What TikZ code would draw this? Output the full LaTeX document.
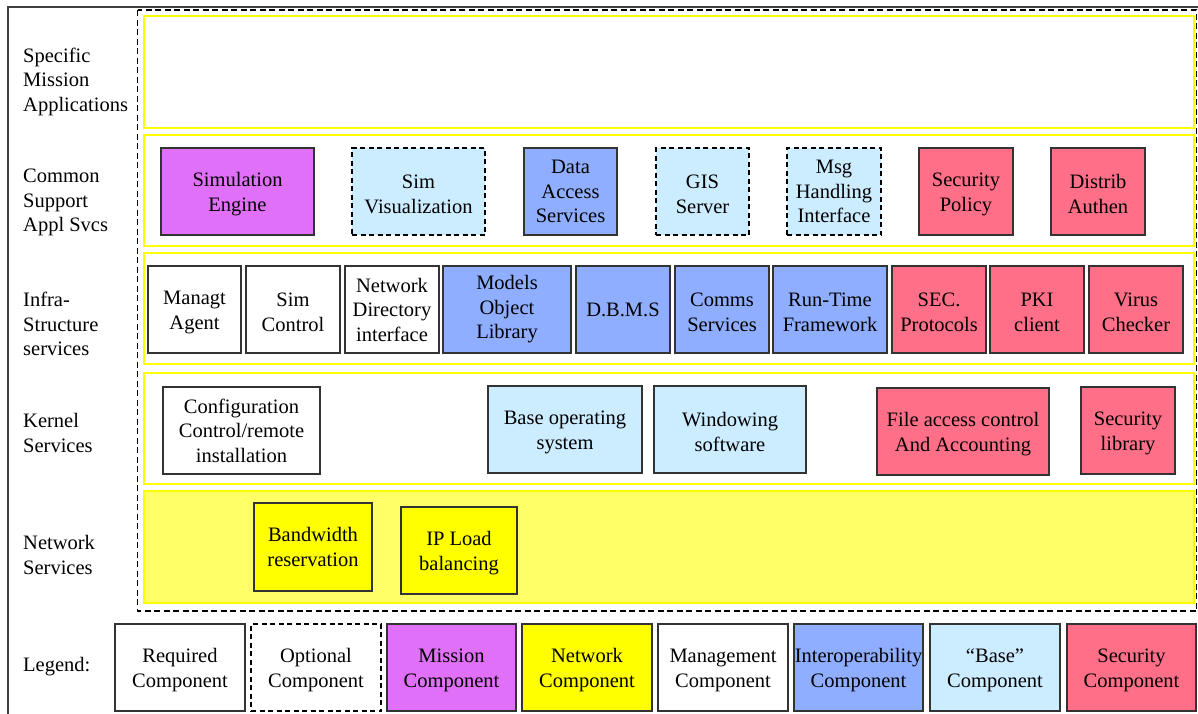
\documentclass[tikz,border=0pt]{standalone}
\usepackage{fontspec}
\setmainfont{Liberation Serif}
\definecolor{mission}{HTML}{E070F7}
\definecolor{interop}{HTML}{8FAEFF}
\definecolor{basec}{HTML}{CCECFF}
\definecolor{secur}{HTML}{FF7088}
\definecolor{netw}{HTML}{FFFF00}
\definecolor{netrow}{HTML}{FFFF66}
\definecolor{edge}{HTML}{333333}
\newcommand\upx{\rule{0pt}{19pt}}
\begin{document}
\begin{tikzpicture}[x=1pt,y=-1pt,
  txt/.style={font=\fontsize{20.5}{24.5}\selectfont},
  comp/.style={txt,draw=edge,line width=1.3pt,inner sep=0pt,outer sep=0pt,align=center,anchor=north west},
  req/.style={comp,fill=white},
  opt/.style={comp,fill=basec,dash pattern=on 5pt off 3.5pt,draw=black,line width=1.6pt},
  optw/.style={comp,fill=white,dash pattern=on 5pt off 3.5pt,draw=black,line width=1.6pt},
  miss/.style={comp,fill=mission},
  intp/.style={comp,fill=interop},
  base/.style={comp,fill=basec},
  sec/.style={comp,fill=secur},
  net/.style={comp,fill=netw},
  layer/.style={draw=netw,line width=1.6pt,fill=white},
  lab/.style={txt,anchor=west,align=left,inner sep=0pt}
]
\useasboundingbox (0,0) rectangle (1198,713);
% outer frame
\draw[line width=1.8pt,black!75] (8,714) -- (8,7) -- (1199,7);
% dashed enclosure
\draw[line width=1.8pt,dash pattern=on 6pt off 3.5pt] (137.5,10) rectangle (1196.5,611);
% layers
\draw[layer] (144,16) rectangle (1194,128);
\draw[layer] (144,135) rectangle (1194,246);
\draw[layer] (144,253) rectangle (1194,364);
\draw[layer] (144,373) rectangle (1194,484);
\draw[layer,fill=netrow] (144,491) rectangle (1194,603);
% left labels
\node[lab] (l1) at (23,81.5) {Specific\\Mission\\Applications};
\node[lab] (l2) at (23,202.5) {Common\\Support\\Appl Svcs};
\node[lab] (l3) at (23,324) {Infra-\\Structure\\services};
\node[lab] (l4) at (23,433) {Kernel\\Services};
\node[lab] (l5) at (23,555) {Network\\Services};
\node[lab] (l6) at (23,667) {Legend:};
% row 2
\node[miss,minimum width=153pt,minimum height=87pt] (simeng) at (161,148) {\upx Simulation\\Engine};
\node[opt,minimum width=133pt,minimum height=87pt] (simvis) at (352,148) {\upx Sim\\Visualization};
\node[intp,minimum width=93pt,minimum height=87pt] (das) at (524,148) {Data\\Access\\Services};
\node[opt,minimum width=93pt,minimum height=87pt] (gis) at (656,148) {\upx GIS\\Server};
\node[opt,minimum width=94pt,minimum height=87pt] (msg) at (787,148) {Msg\\Handling\\Interface};
\node[sec,minimum width=94pt,minimum height=87pt] (secpol) at (919,148) {\upx Security\\Policy};
\node[sec,minimum width=94pt,minimum height=87pt] (dist) at (1051,148) {\upx Distrib\\Authen};
% row 3
\node[req,minimum width=93pt,minimum height=87pt] (managt) at (148,266) {\upx Managt\\Agent};
\node[req,minimum width=94pt,minimum height=87pt] (simctl) at (246,266) {\upx Sim\\Control};
\node[req,minimum width=94pt,minimum height=87pt] (netdir) at (345,266) {Network\\Directory\\interface};
\node[intp,minimum width=128pt,minimum height=87pt] (models) at (443,266) {Models\\Object\\Library};
\node[intp,minimum width=94pt,minimum height=87pt] (dbms) at (576,266) {D.B.M.S};
\node[intp,minimum width=94pt,minimum height=87pt] (comms) at (675,266) {\upx Comms\\Services};
\node[intp,minimum width=114pt,minimum height=87pt] (rtf) at (773,266) {\upx Run-Time\\Framework};
\node[sec,minimum width=94pt,minimum height=87pt] (secprot) at (892,266) {\upx SEC.\\Protocols};
\node[sec,minimum width=94pt,minimum height=87pt] (pki) at (990,266) {\upx PKI\\client};
\node[sec,minimum width=94pt,minimum height=87pt] (virus) at (1089,266) {\upx Virus\\Checker};
% row 4
\node[req,minimum width=157pt,minimum height=87pt] (config) at (163,387) {Configuration\\Control/remote\\installation};
\node[base,minimum width=154pt,minimum height=87pt] (baseos) at (488,386) {\upx Base operating\\system};
\node[base,minimum width=152pt,minimum height=87pt] (window) at (654,386) {\upx Windowing\\software};
\node[sec,minimum width=172pt,minimum height=87pt] (fileacc) at (877,388) {\upx File access control\\And Accounting};
\node[sec,minimum width=94pt,minimum height=87pt] (seclib) at (1081,387) {\upx Security\\library};
% row 5
\node[net,minimum width=118pt,minimum height=88pt] (bw) at (254,503) {Bandwidth\\reservation};
\node[net,minimum width=116pt,minimum height=87pt] (ipl) at (401,507) {\upx IP Load\\balancing};
% legend
\node[req,minimum width=130pt,minimum height=87pt] (lg1) at (115,624) {\upx Required\\Component};
\node[optw,minimum width=130pt,minimum height=87pt] (lg2) at (251,624) {\upx Optional\\Component};
\node[miss,minimum width=129pt,minimum height=87pt] (lg3) at (387,624) {\upx Mission\\Component};
\node[net,minimum width=130pt,minimum height=87pt] (lg4) at (522,624) {\upx Network\\Component};
\node[req,minimum width=130pt,minimum height=87pt] (lg5) at (658,624) {\upx Management\\Component};
\node[intp,minimum width=129pt,minimum height=87pt] (lg6) at (794,624) {\upx Interoperability\\Component};
\node[base,minimum width=130pt,minimum height=87pt] (lg7) at (930,624) {\upx “Base”\\Component};
\node[sec,minimum width=129pt,minimum height=87pt] (lg8) at (1067,624) {\upx Security\\Component};
\end{tikzpicture}
\end{document}
